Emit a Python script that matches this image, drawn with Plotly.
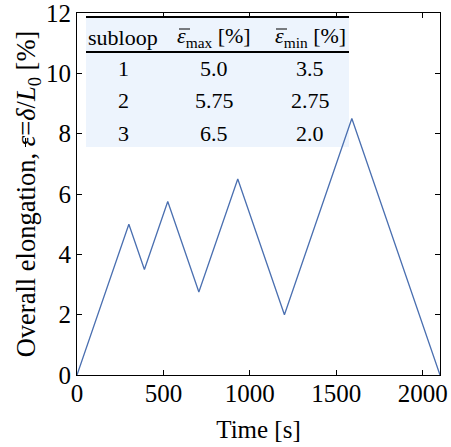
import plotly.graph_objects as go

# Data
time_s = [0, 300, 390, 525, 705, 930, 1200, 1590, 2100]
elongation = [0, 5.0, 3.5, 5.75, 2.75, 6.5, 2.0, 8.5, 0]

subloops = ["1", "2", "3"]
eps_max = ["5.0", "5.75", "6.5"]
eps_min = ["3.5", "2.75", "2.0"]
headers = ["subloop", "<i>ε</i><sub>max</sub> [%]", "<i>ε</i><sub>min</sub> [%]"]

FONT = "Liberation Serif, Times New Roman, serif"

fig = go.Figure()
fig.add_trace(go.Scatter(x=time_s, y=elongation, mode="lines",
                         line=dict(color="#4a6fb0", width=1.3), showlegend=False))

# plot-area pixel geometry helpers
L, R, T, B = 77, 440, 13, 375
W, H = R - L, B - T
def px(x):
    return (x - L) / W
def py(y):
    return (B - y) / H

def hline(x0, x1, y, w):
    fig.add_shape(type="line", xref="paper", yref="paper",
                  x0=px(x0), x1=px(x1), y0=py(y), y1=py(y),
                  line=dict(color="black", width=w))

def vline(x, y0, y1, w):
    fig.add_shape(type="line", xref="paper", yref="paper",
                  x0=px(x), x1=px(x), y0=py(y0), y1=py(y1),
                  line=dict(color="black", width=w))

# table background
fig.add_shape(type="rect", xref="paper", yref="paper",
              x0=px(86), x1=px(349), y0=py(147), y1=py(17),
              fillcolor="#edf4fd", line=dict(width=0), layer="below")
# table rules
hline(86, 349, 17, 2)
hline(86, 349, 52, 2)
# bars over epsilon in table header
hline(179, 190, 29, 1)
hline(276, 287, 29, 1)
# bar over epsilon in y-axis title (rotated)
vline(25.5, 138, 147, 1)

col_x = [123, 214, 310]
header_y = 37
row_y = [68, 100, 133]
columns = [subloops, eps_max, eps_min]
for cx, h in zip(col_x, headers):
    fig.add_annotation(x=px(cx), y=py(header_y), xref="paper", yref="paper",
                       text=h, showarrow=False, xanchor="center", yanchor="middle",
                       font=dict(family=FONT, size=22, color="black"))
for cx, col in zip(col_x, columns):
    for ry, val in zip(row_y, col):
        fig.add_annotation(x=px(cx), y=py(ry), xref="paper", yref="paper",
                           text=val, showarrow=False, xanchor="center", yanchor="middle",
                           font=dict(family=FONT, size=22, color="black"))

axis_common = dict(showline=True, linecolor="black", linewidth=1, mirror="ticks",
                   ticks="inside", ticklen=5, tickcolor="black", showgrid=False,
                   zeroline=False, automargin=False, ticklabeloverflow="allow",
                   tickfont=dict(family=FONT, size=25, color="black"))

fig.update_xaxes(range=[0, 2100], tickvals=[0, 500, 1000, 1500, 2000], ticklabelstandoff=-4,
                 title=dict(text="Time [s]", font=dict(family=FONT, size=25, color="black"), standoff=14),
                 **axis_common)
fig.update_yaxes(range=[0, 12], tickvals=[0, 2, 4, 6, 8, 10, 12],
                 title=dict(text="Overall elongation, <i>ε</i>=<i>δ</i>/<i>L</i><sub>0</sub> [%]",
                            font=dict(family=FONT, size=26.5, color="black"), standoff=2),
                 **axis_common)

fig.update_layout(width=451, height=447, margin=dict(l=L, r=451 - R, t=T, b=447 - B),
                  plot_bgcolor="white", paper_bgcolor="white",
                  font=dict(family=FONT, color="black"))

fig.write_html("out.html", config={"displayModeBar": False},
               post_script="document.body.style.margin='0';document.body.style.padding='0';")
